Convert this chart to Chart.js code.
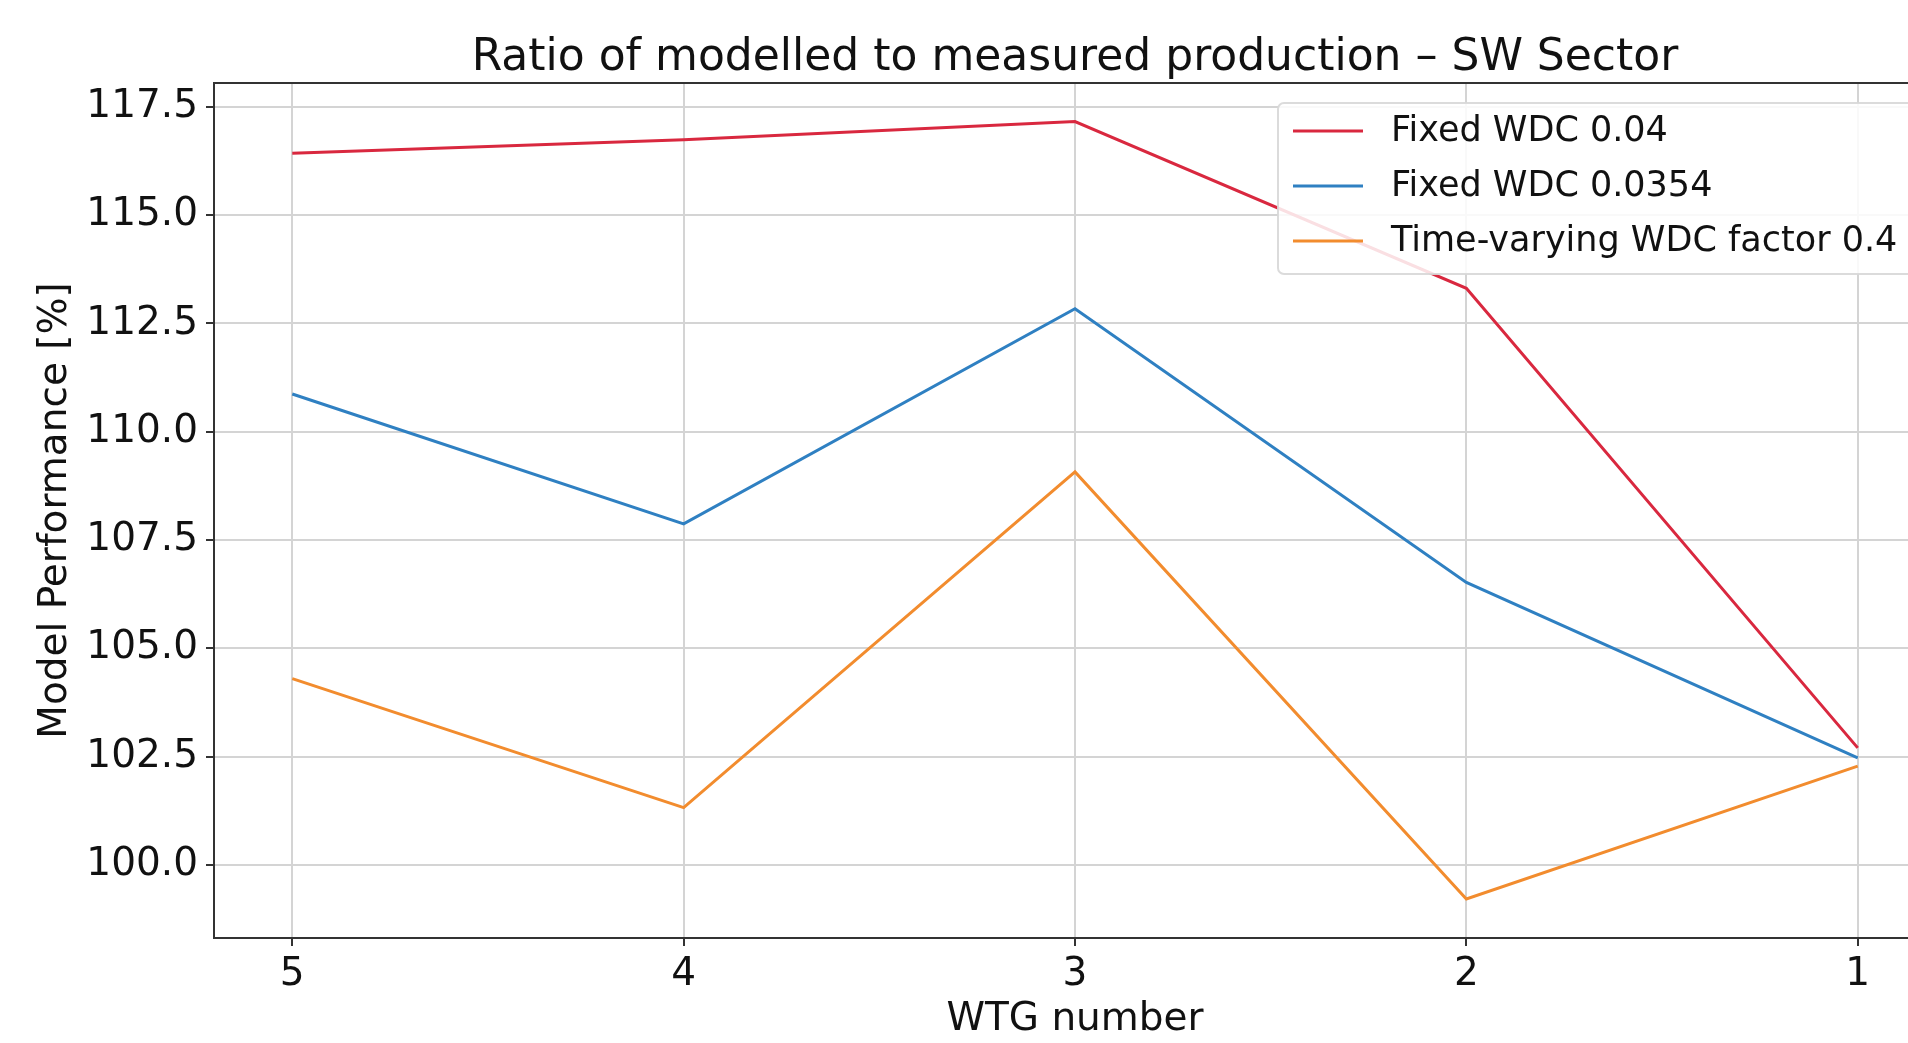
<!DOCTYPE html>
<html>
<head>
<meta charset="utf-8">
<script src="https://cdn.jsdelivr.net/npm/chart.js@4"></script>
<style>
    html, body { margin: 0; padding: 0; background: #fff; overflow: hidden; }
    #wrap { position: relative; width: 1940px; height: 1043px; }
</style>
</head>
<body>
<div id="wrap"><canvas id="perfChart" width="1940" height="1043"></canvas></div>
<script>
// WTG numbers on the x axis (drawn reversed, 5 -> 1)
const wtgNumbers = [5, 4, 3, 2, 1];
// Model performance [%] per series
const fixedWdc004 = [116.43, 116.74, 117.16, 113.31, 102.70];
const fixedWdc0354 = [110.87, 107.87, 112.84, 106.52, 102.47];
const timeVaryingWdc = [104.30, 101.32, 109.07, 99.21, 102.28];
const seriesLabels = ['Fixed WDC 0.04', 'Fixed WDC 0.0354', 'Time-varying WDC factor 0.4'];
const yTicks = [100.0, 102.5, 105.0, 107.5, 110.0, 112.5, 115.0, 117.5];
const chartTitle = 'Ratio of modelled to measured production \u2013 SW Sector';

const FONT = '"DejaVu Sans", sans-serif';

function toPoints(values) {
    return values.map((v, i) => ({ x: wtgNumbers[i], y: v }));
}

// title centred on the plot area + frame top edge
const frameAndTitle = {
    id: 'frameAndTitle',
    beforeDatasetsDraw(chart) {
        const { ctx, chartArea } = chart;
        ctx.save();
        ctx.strokeStyle = '#333';
        ctx.lineWidth = 2;
        ctx.beginPath();
        ctx.moveTo(chartArea.left, chartArea.top);
        ctx.lineTo(chartArea.right, chartArea.top);
        ctx.stroke();
        ctx.restore();
    },
    afterDraw(chart) {
        const { ctx, chartArea } = chart;
        ctx.save();
        ctx.fillStyle = '#111';
        ctx.font = '44px ' + FONT;
        ctx.textAlign = 'center';
        ctx.textBaseline = 'alphabetic';
        ctx.fillText(chartTitle, (chartArea.left + chartArea.right) / 2, 70);
        ctx.restore();
    }
};

// matplotlib style legend in the upper right corner
const cornerLegend = {
    id: 'cornerLegend',
    afterDatasetsDraw(chart) {
        const { ctx } = chart;
        const x0 = 1278, y0 = 103, w = 700, h = 171;
        ctx.save();
        ctx.fillStyle = 'rgba(255,255,255,0.85)';
        ctx.strokeStyle = 'rgba(215,215,215,0.9)';
        ctx.lineWidth = 2;
        ctx.beginPath();
        ctx.roundRect(x0, y0, w, h, 6);
        ctx.fill();
        ctx.stroke();
        ctx.font = '35px ' + FONT;
        ctx.textBaseline = 'middle';
        chart.data.datasets.forEach((ds, i) => {
            const y = 131 + i * 55;
            ctx.strokeStyle = ds.borderColor;
            ctx.lineWidth = 3;
            ctx.beginPath();
            ctx.moveTo(1293, y);
            ctx.lineTo(1363, y);
            ctx.stroke();
            ctx.fillStyle = '#111';
            ctx.fillText(ds.label, 1391, y + 1);
        });
        ctx.restore();
    }
};

const ctx = document.getElementById('perfChart').getContext('2d');
new Chart(ctx, {
    type: 'line',
    data: {
        datasets: [
            { label: seriesLabels[0], data: toPoints(fixedWdc004), borderColor: '#d9283f' },
            { label: seriesLabels[1], data: toPoints(fixedWdc0354), borderColor: '#2f80c2' },
            { label: seriesLabels[2], data: toPoints(timeVaryingWdc), borderColor: '#f28c2e' }
        ].map(d => Object.assign(d, { borderWidth: 3, pointRadius: 0, fill: false, tension: 0 }))
    },
    options: {
        responsive: false,
        animation: false,
        devicePixelRatio: 1,
        layout: { padding: { top: 83, right: 4, left: 0, bottom: 0 } },
        plugins: {
            legend: { display: false },
            title: { display: false },
            tooltip: { enabled: false }
        },
        scales: {
            x: {
                type: 'linear',
                reverse: true,
                min: 0.8,
                max: 5.2,
                afterBuildTicks: axis => { axis.ticks = wtgNumbers.map(v => ({ value: v })); },
                afterFit: axis => { axis.height = 105; },
                ticks: {
                    color: '#111',
                    font: { family: FONT, size: 39 },
                    padding: 5,
                    maxRotation: 0,
                    callback: v => String(v)
                },
                grid: { color: '#d4d4d4', lineWidth: 2, tickColor: '#333', tickLength: 8 },
                border: { display: true, color: '#333', width: 2 },
                title: {
                    display: true,
                    text: 'WTG number',
                    color: '#111',
                    font: { family: FONT, size: 39 },
                    padding: { top: 0, bottom: 0 }
                }
            },
            y: {
                type: 'linear',
                min: 98.31,
                max: 118.05,
                afterBuildTicks: axis => { axis.ticks = yTicks.map(v => ({ value: v })); },
                afterFit: axis => { axis.width = 214; },
                ticks: {
                    color: '#111',
                    font: { family: FONT, size: 39 },
                    padding: 8,
                    callback: v => v.toFixed(1)
                },
                grid: { color: '#d4d4d4', lineWidth: 2, tickColor: '#333', tickLength: 8 },
                border: { display: true, color: '#333', width: 2 },
                title: {
                    display: true,
                    text: 'Model Performance [%]',
                    color: '#111',
                    font: { family: FONT, size: 39 },
                    padding: { top: 32, bottom: 0 }
                }
            }
        }
    },
    plugins: [frameAndTitle, cornerLegend]
});
</script>
</body>
</html>
